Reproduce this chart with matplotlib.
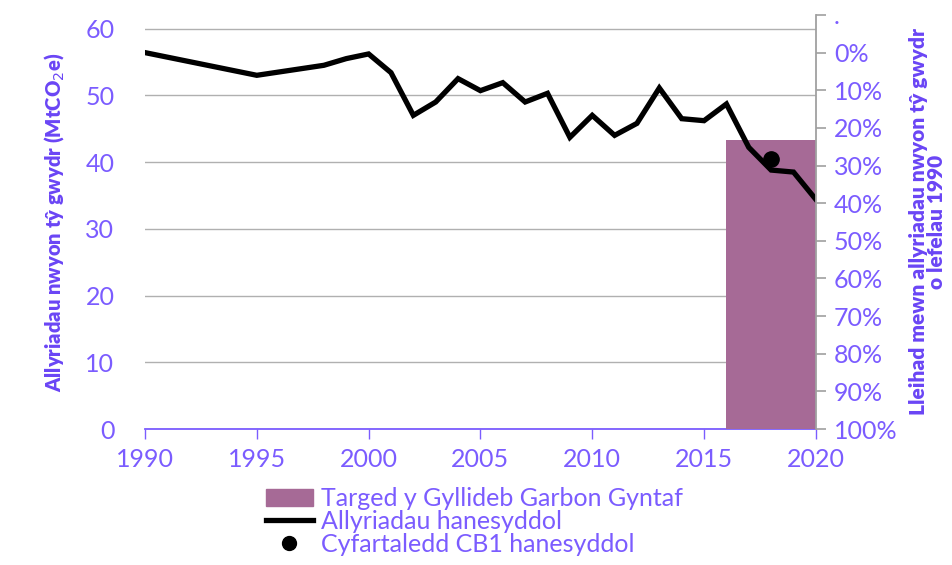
import numpy as np
import matplotlib.pyplot as plt
from matplotlib.patches import Patch
from matplotlib.lines import Line2D

# historical emissions (MtCO2e)
years = [1990, 1995, 1998, 1999, 2000, 2001, 2002, 2003, 2004, 2005, 2006, 2007,
         2008, 2009, 2010, 2011, 2012, 2013, 2014, 2015, 2016, 2017, 2018, 2019, 2020]
emissions = [56.4, 53.0, 54.5, 55.5, 56.2, 53.4, 47.0, 49.0, 52.5, 50.7, 51.9, 49.0,
             50.3, 43.7, 47.0, 44.0, 45.8, 51.1, 46.5, 46.2, 48.7, 42.2, 38.8, 38.5, 34.4]

# first carbon budget target (bar spans 2016-2020)
budget_start = [2014, 2016]
budget_width = [2, 4]
budget_value = [-0.45, 43.3]
budget_color = ['#d98ca4', '#a66a96']

# CB1 historical average
cb1_year = [2018]
cb1_value = [40.5]

base_1990 = 56.4
pct_ticks = [-10, 0, 10, 20, 30, 40, 50, 60, 70, 80, 90, 100]
pct_labels = ['.'] + [f'{p}%' for p in pct_ticks[1:]]

purple = '#7b5cff'
title_purple = '#6a45f5'
plt.rcParams['font.family'] = ['Lato', 'DejaVu Sans']

fig = plt.figure(figsize=(9.52, 5.65), dpi=100)
ax = fig.add_axes([0.1523, 0.2407, 0.7047, 0.7328])

ax.bar(budget_start, budget_value, width=budget_width, align='edge',
       color=budget_color, zorder=2)
ax.plot(years, emissions, color='black', lw=3.8, zorder=3,
        solid_joinstyle='miter')
ax.plot(cb1_year, cb1_value, 'o', color='black', ms=11, zorder=4)

ax.set_xlim(1990, 2020)
ax.set_ylim(0, base_1990 * 1.1)
ax.set_xticks(range(1990, 2021, 5))
ax.set_yticks(range(0, 61, 10))
ax.yaxis.grid(True, color='#b0b0b0', lw=1)
ax.set_axisbelow(True)
for s in ['top', 'left', 'right']:
    ax.spines[s].set_visible(False)
ax.spines['bottom'].set_color(purple)
ax.spines['bottom'].set_linewidth(1.3)
ax.spines['bottom'].set_zorder(1)
ax.tick_params(axis='x', colors=purple, labelsize=18, length=7, width=1, pad=7)
ax.tick_params(axis='y', colors=purple, labelsize=18, length=0, pad=22)
ax.set_ylabel('Allyriadau nwyon tŷ gwydr (MtCO$_2$e)', color=title_purple,
              fontsize=14.5, fontweight='heavy', labelpad=14)

ax2 = ax.twinx()
ax2.set_ylim(100, -10)
ax2.set_yticks(pct_ticks)
ax2.set_yticklabels(pct_labels)
for s in ['top', 'left', 'bottom']:
    ax2.spines[s].set_visible(False)
ax2.spines['right'].set_color('#a0a0a0')
ax2.spines['right'].set_linewidth(1.3)
ax2.tick_params(axis='y', colors='#a0a0a0', labelcolor=purple, labelsize=18,
                length=7, width=1.2, pad=6)
ax2.set_ylabel('Lleihad mewn allyriadau nwyon tŷ gwydr\no lefelau 1990',
               color=title_purple, fontsize=15, fontweight='heavy',
               rotation=90, labelpad=8, linespacing=0.95)

handles = [Patch(color='#a66a96'),
           Line2D([], [], color='black', lw=3.8),
           Line2D([], [], marker='o', color='black', ls='none', ms=10)]
labels = ['Targed y Gyllideb Garbon Gyntaf', 'Allyriadau hanesyddol',
          'Cyfartaledd CB1 hanesyddol']
leg = fig.legend(handles, labels, loc='upper left', bbox_to_anchor=(0.266, 0.16),
                 frameon=False, fontsize=18, handlelength=1.9, handleheight=0.7,
                 handletextpad=0.3, labelspacing=0.0, borderpad=0)
for t in leg.get_texts():
    t.set_color(purple)

fig.savefig('out.png', dpi=100)
